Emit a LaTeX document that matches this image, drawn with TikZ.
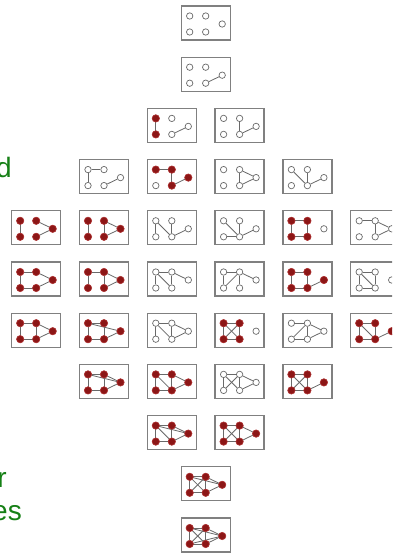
\documentclass[tikz,border=0pt]{standalone}
\usepackage{fontspec}
\setmainfont{Liberation Sans}
\definecolor{frame}{RGB}{128,128,128}
\definecolor{vline}{RGB}{105,105,105}
\definecolor{vred}{RGB}{140,22,22}
\definecolor{vredrim}{RGB}{178,52,52}
\definecolor{slidegreen}{RGB}{22,128,22}
\tikzset{
 gframe/.style={draw=frame, line width=1.3pt, fill=white, minimum width=49pt, minimum height=34pt, inner sep=0pt, outer sep=0pt},
 wv/.style={circle, draw=vline, fill=white, line width=0.7pt, minimum size=6.4pt, inner sep=0pt},
 rv/.style={circle, draw=vredrim, fill=vred, line width=0.6pt, minimum size=7.4pt, inner sep=0pt},
 gedge/.style={draw=vline, line width=0.8pt},
 lbl/.style={text=slidegreen, font=\fontsize{28}{30}\selectfont, inner sep=0pt, anchor=base east}
}
\newcommand\gbox[5]{%
 \begin{scope}[shift={(#2,#3)}]
  \node[gframe] (#1) at (24.5,17) {};
  \foreach \v/\px/\py in {a/8.5/10,b/24.5/10,c/8.5/26,d/24.5/26,e/41/18}
    \node[wv] (#1\v) at (\px,\py) {};
  \if\relax\detokenize{#5}\relax\else
   \foreach \u/\w in {#5} \draw[gedge] (#1\u) -- (#1\w);
  \fi
  \if\relax\detokenize{#4}\relax\else
   \foreach \v in {#4} \node[rv] (#1\v r) at (#1\v) {};
  \fi
 \end{scope}}
\def\cA{11.7}\def\cB{79.5}\def\cC{147.3}\def\cM{181.2}\def\cD{215.1}\def\cE{282.9}\def\cF{350.7}
\begin{document}
\begin{tikzpicture}[x=1pt,y=-1pt]
\useasboundingbox (0,0) rectangle (392,556);
\clip (0,0) rectangle (392,556);
\fill[white] (0,0) rectangle (392,556);
% row 0
\gbox{g00}{\cM}{6}{}{}
% row 1
\gbox{g10}{\cM}{57.2}{}{d/e}
% row 2
\gbox{g20}{\cC}{108.4}{a,c}{a/c,d/e}
\gbox{g21}{\cD}{108.4}{}{b/d,d/e}
% row 3
\gbox{g30}{\cB}{159.6}{}{a/b,a/c,d/e}
\gbox{g31}{\cC}{159.6}{a,b,d,e}{a/b,b/d,d/e}
\gbox{g32}{\cD}{159.6}{}{b/d,b/e,d/e}
\gbox{g33}{\cE}{159.6}{}{a/d,b/d,d/e}
% row 4
\gbox{g40}{\cA}{210.8}{a,b,c,d,e}{a/c,b/e,d/e}
\gbox{g41}{\cB}{210.8}{a,b,c,d,e}{a/c,b/d,b/e,d/e}
\gbox{g42}{\cC}{210.8}{}{a/c,a/d,b/d,d/e}
\gbox{g43}{\cD}{210.8}{}{a/d,b/d,c/d,d/e}
\gbox{g44}{\cE}{210.8}{a,b,c,d}{a/b,b/d,c/d,a/c}
\gbox{g45}{\cF}{210.8}{}{a/b,b/d,b/e,d/e}
% row 5
\gbox{g50}{\cA}{262}{a,b,c,d,e}{a/b,a/c,c/d,b/e,d/e}
\gbox{g51}{\cB}{262}{a,b,c,d,e}{a/b,a/c,b/d,b/e,d/e}
\gbox{g52}{\cC}{262}{}{a/b,a/c,a/d,b/d,b/e}
\gbox{g53}{\cD}{262}{}{a/b,a/c,b/c,b/d,b/e}
\gbox{g54}{\cE}{262}{a,b,c,d,e}{a/b,a/c,b/d,c/d,d/e}
\gbox{g55}{\cF}{262}{}{a/b,a/c,a/d,b/d,c/d}
% row 6
\gbox{g60}{\cA}{313.2}{a,b,c,d,e}{a/b,a/c,b/d,c/d,b/e,d/e}
\gbox{g61}{\cB}{313.2}{a,b,c,d,e}{a/b,a/c,a/e,b/d,c/d,d/e}
\gbox{g62}{\cC}{313.2}{}{a/b,a/c,a/d,b/d,b/e,d/e}
\gbox{g63}{\cD}{313.2}{a,b,c,d}{a/b,a/c,a/d,b/c,b/d,c/d}
\gbox{g64}{\cE}{313.2}{}{a/b,b/c,b/d,b/e,d/e,c/d}
\gbox{g65}{\cF}{313.2}{a,b,c,d,e}{a/b,a/c,a/d,b/d,c/d,d/e}
% row 7
\gbox{g70}{\cB}{364.4}{a,b,c,d,e}{a/b,a/c,b/d,c/d,b/e,d/e,a/e}
\gbox{g71}{\cC}{364.4}{a,b,c,d,e}{a/b,a/c,b/d,c/d,a/d,b/e,d/e}
\gbox{g72}{\cD}{364.4}{}{a/b,a/c,a/d,b/c,b/d,b/e,d/e}
\gbox{g73}{\cE}{364.4}{a,b,c,d,e}{a/b,a/c,a/d,b/c,b/d,c/d,d/e}
% row 8
\gbox{g80}{\cC}{415.6}{a,b,c,d,e}{a/b,a/c,a/d,b/d,c/d,b/e,d/e,a/e}
\gbox{g81}{\cD}{415.6}{a,b,c,d,e}{a/b,a/c,a/d,b/c,b/d,c/d,b/e,d/e}
% row 9
\gbox{g90}{\cM}{466.8}{a,b,c,d,e}{a/b,a/c,a/d,b/c,b/d,c/d,b/e,d/e,a/e}
% row 10
\gbox{gX0}{\cM}{518}{a,b,c,d,e}{a/b,a/c,a/d,b/c,b/d,c/d,b/e,d/e,a/e,c/e}
% cut-off slide text
\node[lbl] (t1) at (12,178) {d};
\node[lbl] (t2) at (7,487) {r};
\node[lbl] (t3) at (22,520) {es};
\end{tikzpicture}
\end{document}
